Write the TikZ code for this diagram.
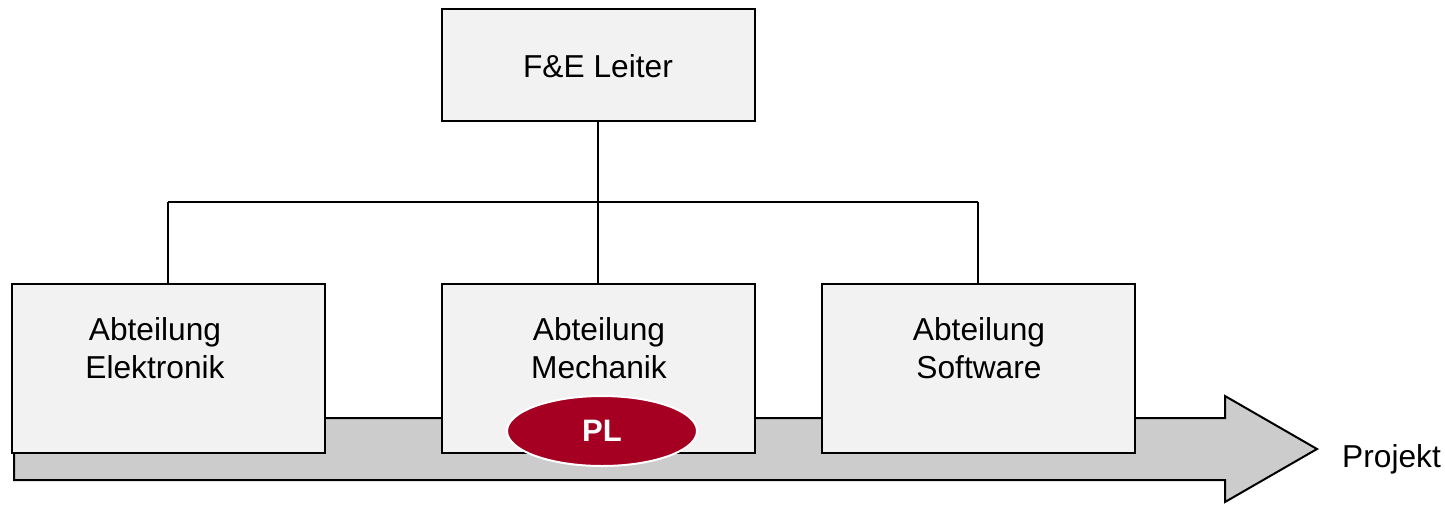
\documentclass[tikz,border=0pt]{standalone}
\usepackage{fontspec}
\setmainfont{Liberation Sans}
\usetikzlibrary{shapes.geometric}
\definecolor{boxfill}{HTML}{F2F2F2}
\definecolor{arrowfill}{HTML}{CCCCCC}
\definecolor{plred}{HTML}{A50021}
\begin{document}
\begin{tikzpicture}[x=1pt,y=-1pt,
  orgbox/.style={draw=black,line width=2pt,fill=boxfill,minimum width=313pt,inner sep=0pt},
  conn/.style={draw=black,line width=1.7pt},
  txt/.style={font=\fontsize{31.7}{38}\selectfont,align=center,inner sep=0pt},
  plnode/.style={ellipse,draw=white,line width=2pt,fill=plred,minimum width=190pt,minimum height=70pt,inner sep=0pt,text=white,font=\fontsize{31}{38}\selectfont\bfseries}]
\useasboundingbox (0,0) rectangle (1445,504);
% project arrow
\draw[line width=2pt,fill=arrowfill,line join=miter]
  (14,418) -- (1225,418) -- (1225,396) -- (1317,449) -- (1225,502) -- (1225,480) -- (14,480) -- cycle;
\node[txt,anchor=base west] (projekt) at (1342,467) {Projekt};
% boxes
\node[orgbox,minimum height=112pt] (fe) at (598,65) {};
\node[orgbox,minimum height=169pt] (el) at (168.5,368.5) {};
\node[orgbox,minimum height=169pt] (me) at (598,368.5) {};
\node[orgbox,minimum height=169pt] (sw) at (978,368.5) {};
\node[txt,anchor=base] (fet) at (598,77) {F\&E Leiter};
\node[txt] (elt) at (155,348) {Abteilung\\Elektronik};
\node[txt] (met) at (599,348) {Abteilung\\Mechanik};
\node[txt] (swt) at (979,348) {Abteilung\\Software};
% connectors
\coordinate (busL) at (168,202);
\coordinate (busR) at (978,202);
\draw[conn] (fe.south) -- (fe.south |- busL);
\draw[conn] (busL) -- (busR);
\draw[conn] (busL) -- (busL |- el.north);
\draw[conn] (busR) -- (busR |- sw.north);
\draw[conn] (me.north) -- (me.north |- busL);
% PL
\node[plnode] (pl) at (602,431) {PL};
\end{tikzpicture}
\end{document}
